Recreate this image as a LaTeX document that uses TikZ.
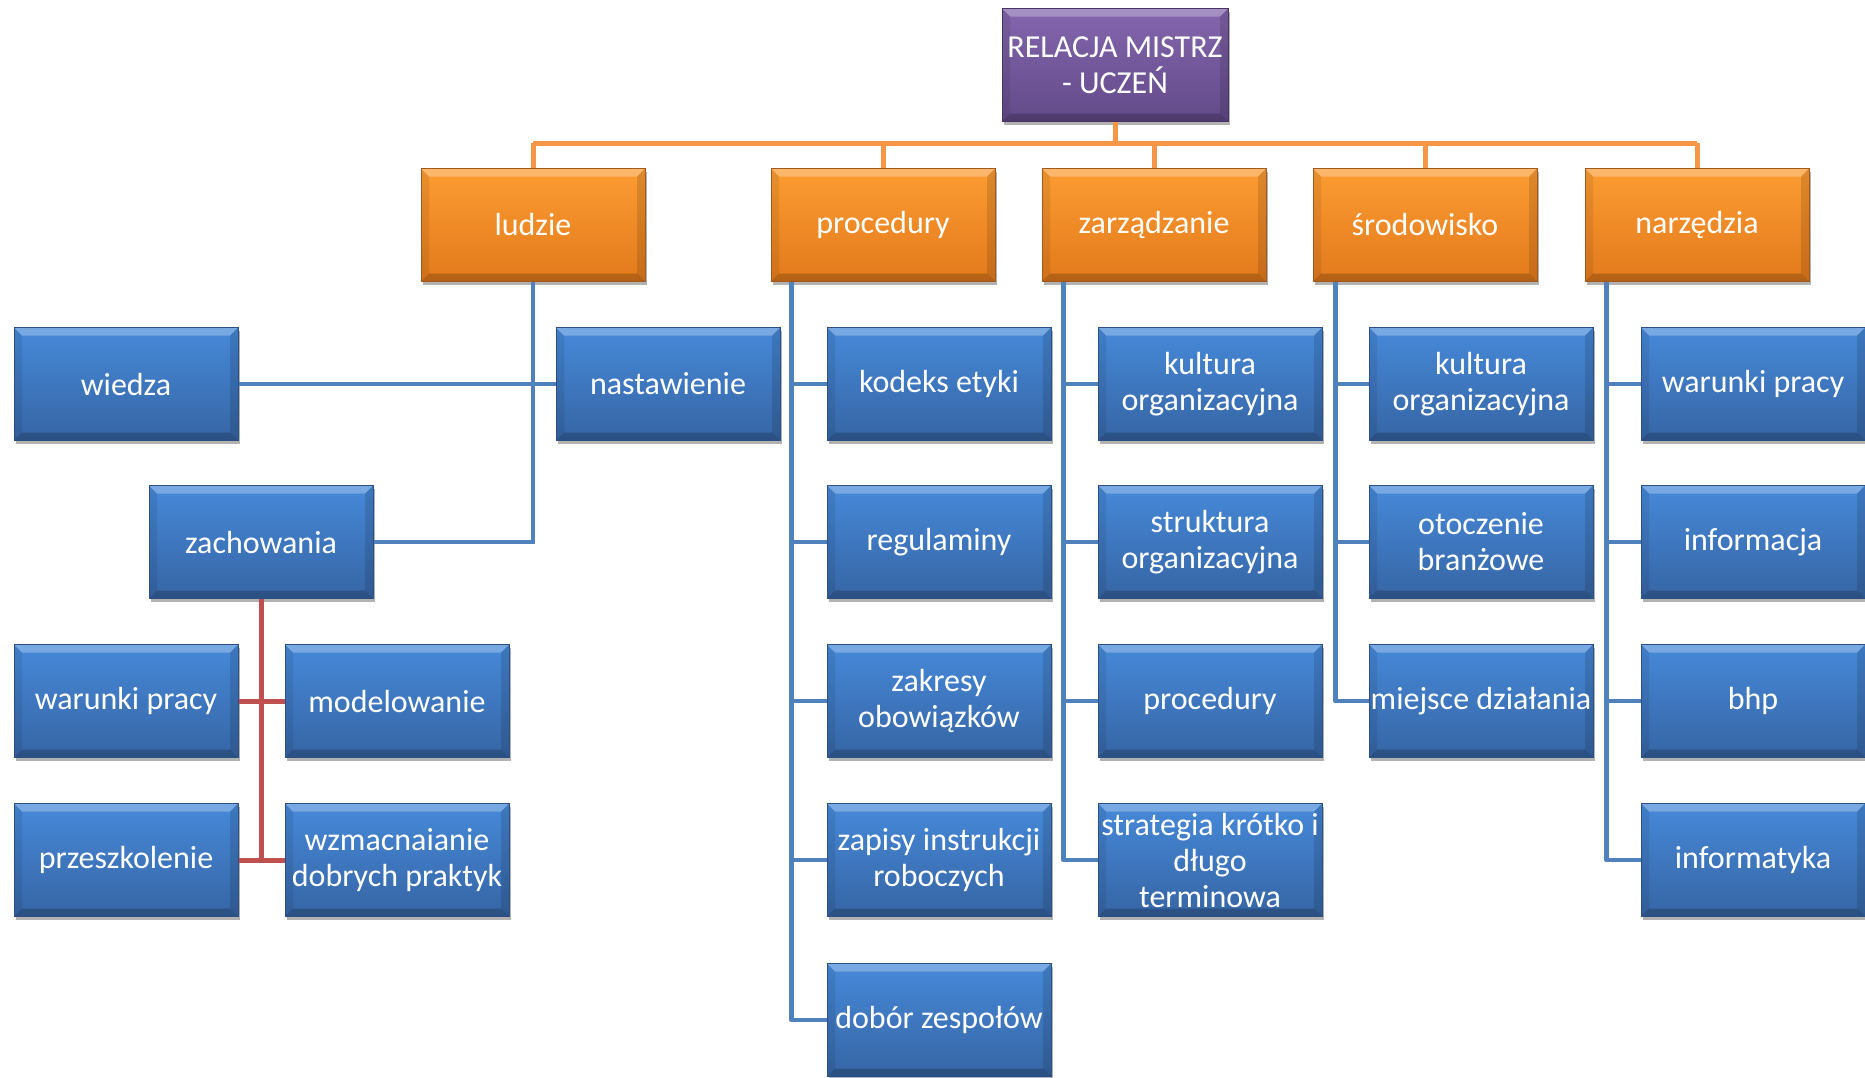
\documentclass[tikz,border=0pt]{standalone}
\usepackage{fontspec}
\setmainfont{Carlito}
\usetikzlibrary{shadows}
\definecolor{blueT}{RGB}{70,137,217}
\definecolor{blueB}{RGB}{54,101,164}
\definecolor{blueD}{RGB}{45,80,130}
\definecolor{orT}{RGB}{252,156,50}
\definecolor{orB}{RGB}{226,122,28}
\definecolor{orD}{RGB}{160,90,30}
\definecolor{puT}{RGB}{132,102,174}
\definecolor{puB}{RGB}{98,74,136}
\definecolor{puD}{RGB}{70,52,100}
\definecolor{lineB}{RGB}{79,129,189}
\definecolor{lineO}{RGB}{247,150,70}
\definecolor{lineR}{RGB}{192,80,77}
\begin{document}
\begin{tikzpicture}[x=1pt,y=-1pt,
  bevel/.style={path picture={
    \fill[white,opacity=.28] (path picture bounding box.north west) -- (path picture bounding box.north east) -- ([xshift=-8pt,yshift=-8pt]path picture bounding box.north east) -- ([xshift=8pt,yshift=-8pt]path picture bounding box.north west) -- cycle;
    \fill[black,opacity=.20] (path picture bounding box.south west) -- (path picture bounding box.south east) -- ([xshift=-8pt,yshift=8pt]path picture bounding box.south east) -- ([xshift=8pt,yshift=8pt]path picture bounding box.south west) -- cycle;
    \fill[black,opacity=.08] (path picture bounding box.north west) -- ([xshift=8pt,yshift=-8pt]path picture bounding box.north west) -- ([xshift=8pt,yshift=8pt]path picture bounding box.south west) -- (path picture bounding box.south west) -- cycle;
    \fill[black,opacity=.12] (path picture bounding box.north east) -- ([xshift=-8pt,yshift=-8pt]path picture bounding box.north east) -- ([xshift=-8pt,yshift=8pt]path picture bounding box.south east) -- (path picture bounding box.south east) -- cycle;
  }},
  box/.style={minimum width=224pt, minimum height=113pt, inner sep=0pt, align=center,
    text=white, font=\fontsize{32}{36}\selectfont, line width=1pt, bevel,
    drop shadow={shadow xshift=1.5pt,shadow yshift=-3.5pt,opacity=0.3,fill=black}},
  bluebox/.style={box, top color=blueT, bottom color=blueB, draw=blueD},
  orbox/.style={box, top color=orT, bottom color=orB, draw=orD},
  pubox/.style={box, top color=puT, bottom color=puB, draw=puD, minimum width=226pt},
  bline/.style={draw=lineB, line width=4.5pt},
  oline/.style={draw=lineO, line width=5pt},
  rline/.style={draw=lineR, line width=5pt}
]
\useasboundingbox (0,0) rectangle (1865,1077);

% top
\node[pubox] (top) at (1115,65) {RELACJA MISTRZ\\- UCZEŃ};

% orange
\node[orbox] (ludzie) at (533,225) {ludzie};
\node[orbox] (proc) at (883,225) {procedury};
\node[orbox] (zarz) at (1154,225) {zarządzanie};
\node[orbox] (srod) at (1425,225) {środowisko};
\node[orbox] (narz) at (1697,225) {narzędzia};

% ludzie
\node[bluebox] (wiedza) at (126,384) {wiedza};
\node[bluebox] (nast) at (668,384) {nastawienie};
\node[bluebox] (zach) at (261,542) {zachowania};
\node[bluebox] (warA) at (126,701) {warunki pracy};
\node[bluebox] (model) at (397,701) {modelowanie};
\node[bluebox] (przesz) at (126,860) {przeszkolenie};
\node[bluebox] (wzm) at (397,860) {wzmacnaianie\\dobrych praktyk};

% procedury
\node[bluebox] (p1) at (939,384) {kodeks etyki};
\node[bluebox] (p2) at (939,542) {regulaminy};
\node[bluebox] (p3) at (939,701) {zakresy\\obowiązków};
\node[bluebox] (p4) at (939,860) {zapisy instrukcji\\roboczych};
\node[bluebox] (p5) at (939,1020) {dobór zespołów};

% zarzadzanie
\node[bluebox] (z1) at (1210,384) {kultura\\organizacyjna};
\node[bluebox] (z2) at (1210,542) {struktura\\organizacyjna};
\node[bluebox] (z3) at (1210,701) {procedury};
\node[bluebox] (z4) at (1210,860) {strategia krótko i\\długo\\terminowa};

% srodowisko
\node[bluebox] (s1) at (1481,384) {kultura\\organizacyjna};
\node[bluebox] (s2) at (1481,542) {otoczenie\\branżowe};
\node[bluebox] (s3) at (1481,701) {miejsce działania};

% narzedzia
\node[bluebox] (n1) at (1753,384) {warunki pracy};
\node[bluebox] (n2) at (1753,542) {informacja};
\node[bluebox] (n3) at (1753,701) {bhp};
\node[bluebox] (n4) at (1753,860) {informatyka};

% orange bus
\coordinate (bus) at (1115,143);
\draw[oline] (top.south) -- (bus);
\draw[oline] (ludzie.north |- bus) -- (narz.north |- bus);
\foreach \n in {ludzie,proc,zarz,srod,narz}
  \draw[oline] (\n.north |- bus) -- (\n.north);

% ludzie connectors
\draw[bline] (ludzie.south) |- (zach.east);
\draw[bline] (wiedza.east) -- (nast.west);
\draw[rline] (zach.south) -- (zach.south |- przesz.east);
\draw[rline] (warA.east) -- (model.west);
\draw[rline] (przesz.east) -- (wzm.west);

% other trees
\foreach \c in {p1,p2,p3,p4,p5}
  \draw[bline,line join=round] ([xshift=21pt]proc.south west) |- (\c.west);
\foreach \c in {z1,z2,z3,z4}
  \draw[bline,line join=round] ([xshift=22pt]zarz.south west) |- (\c.west);
\foreach \c in {s1,s2,s3}
  \draw[bline,line join=round] ([xshift=23pt]srod.south west) |- (\c.west);
\foreach \c in {n1,n2,n3,n4}
  \draw[bline,line join=round] ([xshift=22pt]narz.south west) |- (\c.west);
\end{tikzpicture}
\end{document}
